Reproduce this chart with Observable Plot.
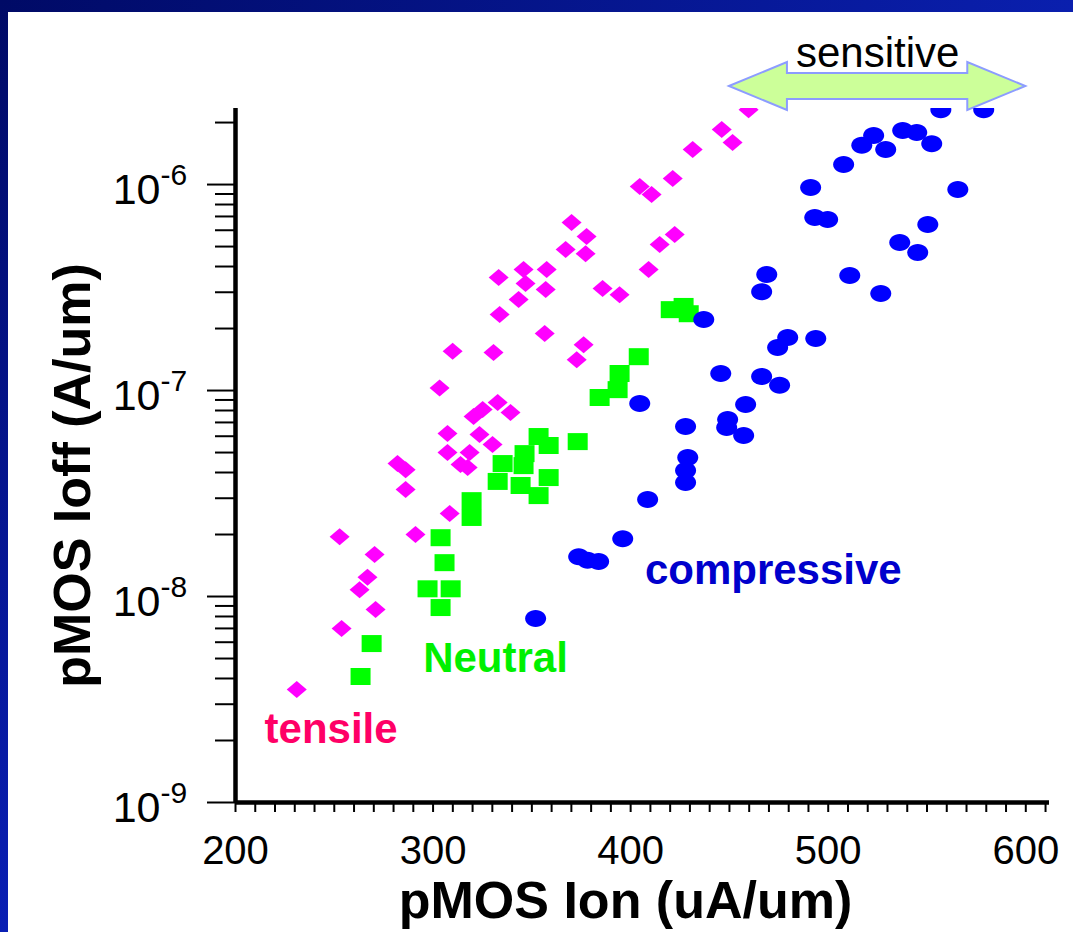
<!DOCTYPE html>
<html>
<head>
<meta charset="utf-8">
<script src="https://cdn.jsdelivr.net/npm/d3@7"></script>
<script src="https://cdn.jsdelivr.net/npm/@observablehq/plot@0.6"></script>
<style>
  html, body { margin: 0; padding: 0; background: #fff; }
  #slide { position: relative; width: 1073px; height: 932px; background: #fff; overflow: hidden;
           font-family: "Liberation Sans", Arial, Helvetica, sans-serif; }
  #chart { position: absolute; left: 0; top: 0; }
  #bandTop { position: absolute; left: 0; top: 0; width: 1073px; height: 12px;
             background: linear-gradient(to right, #000a66, #0a1fae); }
  #bandLeft { position: absolute; left: 0; top: 0; width: 8px; height: 932px;
              background: linear-gradient(to bottom, #000a66, #0a1fb4); }
</style>
</head>
<body>
<div id="slide">
  <div id="chart"></div>
  <div id="bandTop"></div>
  <div id="bandLeft"></div>
</div>
<script>
// pMOS on-current (uA/um) vs off-current (A/um) for three channel-strain conditions

const tensileIon = [231, 253.7, 252.7, 262.8, 266.8, 270.4, 270.9, 282.0, 286.1, 286.1,
  291.1, 303.3, 307.3, 307.3, 308.4, 309.9, 313.9, 317.5, 318.5, 320.5,
  325.1, 323.5, 330.1, 330.6, 332.7, 339.2, 333.2, 333.7, 343.3, 345.8,
  346.8, 356.5, 357.5, 357.0, 370.1, 367.1, 377.7, 377.2, 372.7, 376.2,
  385.8, 394.4, 404.6, 410.6, 409.1, 414.7, 422.3, 421.3, 431.4, 446.1,
  451.6, 459.7];
const tensileIoff = [3.54e-9, 7.0e-9, 1.95e-8, 1.08e-8, 1.24e-8, 1.60e-8, 8.65e-9, 4.42e-8, 4.13e-8, 3.31e-8,
  2.0e-8, 1.03e-7, 6.18e-8, 5.0e-8, 2.53e-8, 1.55e-7, 4.37e-8, 4.23e-8, 5.0e-8, 7.48e-8,
  8.09e-8, 6.11e-8, 5.47e-8, 1.53e-7, 8.74e-8, 7.82e-8, 3.54e-7, 2.34e-7, 2.77e-7, 3.87e-7,
  3.31e-7, 1.89e-7, 3.87e-7, 3.09e-7, 6.54e-7, 4.84e-7, 5.59e-7, 4.62e-7, 1.41e-7, 1.67e-7,
  3.13e-7, 2.92e-7, 9.78e-7, 8.94e-7, 3.87e-7, 5.11e-7, 5.72e-7, 1.07e-6, 1.48e-6, 1.85e-6,
  1.60e-6, 2.31e-6];

const neutralIon = [263.3, 268.9, 297.2, 308.9, 303.8, 305.8, 303.8, 319.5, 319.5, 332.7,
  335.2, 344.3, 345.8, 346.3, 353.4, 358.5, 358.5, 353.4, 373.2, 384.3,
  393.4, 394.4, 404.1, 420.3, 426.8, 429.4];
const neutralIoff = [4.09e-9, 5.91e-9, 1.09e-8, 1.09e-8, 8.84e-9, 1.46e-8, 1.93e-8, 2.92e-8, 2.42e-8, 3.62e-8,
  4.42e-8, 3.46e-8, 4.32e-8, 4.94e-8, 5.98e-8, 5.41e-8, 3.78e-8, 3.09e-8, 5.65e-8, 9.25e-8,
  1.01e-7, 1.21e-7, 1.46e-7, 2.47e-7, 2.56e-7, 2.36e-7];

const compressiveIon = [557.0, 578.7, 523.0, 517.0, 529.1, 537.7, 544.8, 552.4, 507.8, 491.1,
  565.6, 493.2, 499.7, 550.4, 536.2, 545.3, 468.9, 466.3, 510.9, 526.6,
  437.0, 479.5, 474.4, 493.7, 445.6, 466.3, 475.4, 404.6, 458.2, 449.1,
  448.6, 457.2, 427.8, 428.9, 427.8, 427.8, 408.6, 396.0, 373.7, 378.2,
  383.8, 351.9];
const compressiveIoff = [2.31e-6, 2.31e-6, 1.73e-6, 1.55e-6, 1.48e-6, 1.83e-6, 1.79e-6, 1.58e-6, 1.25e-6, 9.67e-7,
  9.46e-7, 6.92e-7, 6.76e-7, 6.39e-7, 5.23e-7, 4.68e-7, 3.66e-7, 3.02e-7, 3.62e-7, 2.96e-7,
  2.21e-7, 1.81e-7, 1.62e-7, 1.79e-7, 1.21e-7, 1.17e-7, 1.06e-7, 8.65e-8, 8.55e-8, 7.23e-8,
  6.61e-8, 6.05e-8, 6.69e-8, 4.73e-8, 4.09e-8, 3.58e-8, 2.96e-8, 1.91e-8, 1.56e-8, 1.50e-8,
  1.48e-8, 7.82e-9];

const groupNames = ["tensile", "Neutral", "compressive"];
const xMajorTicks = [200, 300, 400, 500, 600];
const yDecades = [1e-9, 1e-8, 1e-7, 1e-6];
const sensitiveRange = [450, 600];

const toRows = (ion, ioff) => ion.map((v, i) => ({ion: v, ioff: ioff[i]}));
const tensile = toRows(tensileIon, tensileIoff);
const neutral = toRows(neutralIon, neutralIoff);
const compressive = toRows(compressiveIon, compressiveIoff);

// marker shapes: rotated square, flat square and oval
const rhombus = {draw(c) { const w = 10, h = 8.5; c.moveTo(0, -h); c.lineTo(w, 0); c.lineTo(0, h); c.lineTo(-w, 0); c.closePath(); }};
const block = {draw(c) { c.rect(-10, -8.5, 20, 17); }};
const oval = {draw(c) {
  const a = 10.5, b = 8.5, k = 0.5523;
  c.moveTo(a, 0);
  c.bezierCurveTo(a, b * k, a * k, b, 0, b);
  c.bezierCurveTo(-a * k, b, -a, b * k, -a, 0);
  c.bezierCurveTo(-a, -b * k, -a * k, -b, 0, -b);
  c.bezierCurveTo(a * k, -b, a, -b * k, a, 0);
  c.closePath();
}};

const xMinorTicks = d3.range(200, 611, 10);
const yMinorTicks = [];
for (const d of yDecades) for (let m = 2; m <= 9; m++) if (d * m <= 2.34e-6) yMinorTicks.push(d * m);

// double-headed arrow spanning the sensitive Ion range, drawn just above the frame
function sensitiveArrow(index, scales, values, dimensions) {
  const x0 = scales.x(sensitiveRange[0]), x1 = scales.x(sensitiveRange[1]);
  const cy = dimensions.marginTop - 22, head = 58, hh = 24, sh = 13;
  const pts = [[x0, cy], [x0 + head, cy - hh], [x0 + head, cy - sh], [x1 - head, cy - sh], [x1 - head, cy - hh],
               [x1, cy], [x1 - head, cy + hh], [x1 - head, cy + sh], [x0 + head, cy + sh], [x0 + head, cy + hh]];
  const g = d3.create("svg:g");
  g.append("polygon")
    .attr("points", pts.map(p => p.join(",")).join(" "))
    .attr("fill", "#ccff99")
    .attr("stroke", "#8c9cff")
    .attr("stroke-width", 2);
  return g.node();
}

const labelMarks = [
  {name: groupNames[0], ion: 248.4, ioff: 2.25e-9, color: "#ff0066"},
  {name: groupNames[1], ion: 331.6, ioff: 5.02e-9, color: "#00f000"},
  {name: groupNames[2], ion: 472.2, ioff: 1.34e-8, color: "#0000cc"}
];

const chart = Plot.plot({
  width: 1073,
  height: 932,
  marginLeft: 235,
  marginRight: 24,
  marginTop: 108,
  marginBottom: 130,
  style: {fontFamily: "'Liberation Sans', Arial, Helvetica, sans-serif", background: "transparent", color: "#000", overflow: "visible"},
  x: {domain: [200, 612]},
  y: {type: "log", domain: [1e-9, 2.34e-6]},
  marks: [
    sensitiveArrow,
    Plot.text(["sensitive"], {x: d3.mean(sensitiveRange), frameAnchor: "top", dy: -55, lineAnchor: "middle",
      textAnchor: "middle", fontSize: 42, fill: "#000"}),
    // axes
    Plot.axisX({ticks: xMinorTicks, tickSize: 10, strokeWidth: 2, tickFormat: () => "", label: null}),
    Plot.axisX({ticks: xMajorTicks, tickSize: 0, tickPadding: 33, fontSize: 40, tickFormat: d => String(d), label: null}),
    Plot.axisY({ticks: yMinorTicks, tickSize: 20, strokeWidth: 2, tickFormat: () => "", label: null}),
    Plot.axisY({ticks: yDecades, tickSize: 28, strokeWidth: 2, tickFormat: () => "", label: null}),
    Plot.text(yDecades, {y: d => d, frameAnchor: "left", text: () => "10", textAnchor: "end",
      lineAnchor: "middle", dx: -75, dy: 6, fontSize: 43}),
    Plot.text(yDecades, {y: d => d, frameAnchor: "left", text: d => String(Math.round(Math.log10(d))), textAnchor: "start",
      lineAnchor: "middle", dx: -75, dy: -9, fontSize: 30}),
    Plot.ruleX([200], {strokeWidth: 4.5}),
    Plot.ruleY([1e-9], {strokeWidth: 4.5}),
    Plot.text(["pMOS Ion (uA/um)"], {frameAnchor: "bottom", lineAnchor: "middle", dx: -17, dy: 99,
      fontSize: 52, fontWeight: "bold"}),
    Plot.text(["pMOS Ioff (A/um)"], {frameAnchor: "left", lineAnchor: "middle", textAnchor: "middle", rotate: -90,
      dx: -162, dy: 20, fontSize: 52, fontWeight: "bold"}),
    // measured devices
    Plot.dot(tensile, {x: "ion", y: "ioff", symbol: rhombus, fill: "#ff00ff", stroke: "none", clip: true}),
    Plot.dot(neutral, {x: "ion", y: "ioff", symbol: block, fill: "#00ff00", stroke: "none", clip: true}),
    Plot.dot(compressive, {x: "ion", y: "ioff", symbol: oval, fill: "#0000ff", stroke: "none", clip: true}),
    // group names
    Plot.text(labelMarks, {x: "ion", y: "ioff", text: "name", fill: "color", fontSize: 42, fontWeight: "bold",
      textAnchor: "middle", lineAnchor: "middle"})
  ]
});

document.getElementById("chart").appendChild(chart);
</script>
</body>
</html>
